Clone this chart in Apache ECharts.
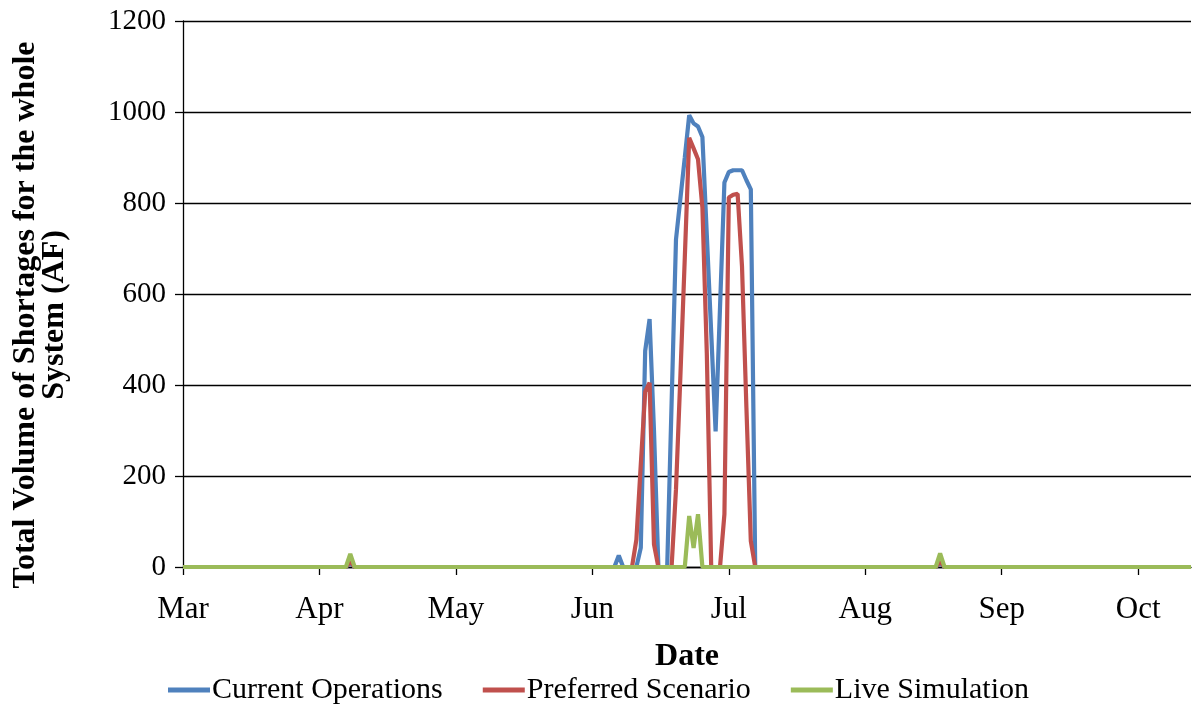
<!DOCTYPE html>
<html>
<head>
<meta charset="utf-8">
<script src="https://cdn.jsdelivr.net/npm/echarts@6/dist/echarts.min.js"></script>
<style>
  html, body { margin: 0; padding: 0; background: #fff; }
  #chart { width: 1193px; height: 710px; }
</style>
</head>
<body>
<div id="chart"></div>
<script>
// daily dates from 1 Mar, month tick labels every 31 days
const monthNames = ["Mar", "Apr", "May", "Jun", "Jul", "Aug", "Sep", "Oct"];
const monthDays = [31, 30, 31, 30, 31, 31, 30, 31];
const dayCount = 230;
const tickEvery = 31;

// non-zero stretches (everything else is 0)
const blueStart = 98;
const blueVals = [0, 25, 0, 0, 0, 0, 42, 475, 545, 300, 0, 0, 0, 360, 720, 810, 900, 993, 975, 968, 945, 730, 515, 298, 570, 845, 868, 872, 872, 872, 850, 830, 0];
const redStart = 101;
const redVals = [0, 0, 60, 225, 385, 405, 50, 0, 0, 0, 0, 171, 420, 680, 943, 920, 896, 790, 470, 0, 0, 0, 116, 812, 818, 820, 660, 350, 57, 0];
const greenStart = 114;
const greenVals = [0, 112, 42, 116, 0];

// two single-day spikes (Apr, Aug)
const spikeDays = [38, 172];
const blueSpikes = [10, 10];
const redSpikes = [12, 12];
const greenSpikes = [29, 30];

const dates = [];
for (let m = 0; m < monthDays.length; m++) {
  for (let d = 1; d <= monthDays[m]; d++) dates.push(monthNames[m] + " " + d);
}
dates.length = dayCount;

function buildSeries(start, vals, spikes) {
  const out = new Array(dayCount).fill(0);
  vals.forEach((v, i) => { out[start + i] = v; });
  spikeDays.forEach((d, i) => { out[d] = spikes[i]; });
  return out;
}

const blue = buildSeries(blueStart, blueVals, blueSpikes);
const red = buildSeries(redStart, redVals, redSpikes);
const green = buildSeries(greenStart, greenVals, greenSpikes);

const font = "'Liberation Serif', 'Times New Roman', serif";
const chart = echarts.init(document.getElementById("chart"));

const lineSeries = (name, color, data) => ({
  name: name,
  type: "line",
  data: data,
  symbol: "none",
  lineStyle: { color: color, width: 4.2 },
  itemStyle: { color: color },
});

chart.setOption({
  animation: false,
  textStyle: { fontFamily: font, color: "#000" },
  grid: { left: 183, right: 2, top: 21, bottom: 143, containLabel: false, outerBoundsMode: "none" },
  legend: {
    bottom: 0,
    left: 163,
    icon: "rect",
    itemWidth: 42,
    itemHeight: 5,
    itemGap: 40,
    textStyle: { fontFamily: font, fontSize: 30, color: "#000", padding: [0, 0, 0, -3] },
    data: ["Current Operations", "Preferred Scenario", "Live Simulation"],
  },
  xAxis: {
    type: "category",
    data: dates,
    boundaryGap: false,
    name: "Date",
    nameLocation: "middle",
    nameGap: 74,
    nameTextStyle: { fontFamily: font, fontSize: 32, fontWeight: "bold", color: "#000" },
    axisLine: { lineStyle: { color: "#000", width: 1.3 } },
    axisTick: { interval: tickEvery - 1, length: 8, lineStyle: { color: "#000", width: 1.3 } },
    axisLabel: {
      interval: tickEvery - 1,
      margin: 27,
      fontSize: 31,
      fontFamily: font,
      color: "#000",
      formatter: (v, idx) => monthNames[Math.round(idx / tickEvery)],
    },
    splitLine: { show: false },
  },
  yAxis: {
    type: "value",
    min: 0,
    max: 1200,
    interval: 200,
    name: "Total Volume of Shortages for the whole\nSystem (AF)",
    nameLocation: "middle",
    nameGap: 114,
    nameTextStyle: {
      fontFamily: font, fontSize: 32, fontWeight: "bold", color: "#000",
      lineHeight: 29, padding: [0, 42, 0, 0],
    },
    axisLine: { show: true, lineStyle: { color: "#000", width: 1.3 } },
    axisTick: { show: true, length: 8, lineStyle: { color: "#000", width: 1.3 } },
    axisLabel: { margin: 17, fontSize: 29, fontFamily: font, color: "#000", formatter: (v) => String(v) },
    splitLine: { lineStyle: { color: "#000", width: 1.3 } },
  },
  series: [
    lineSeries("Current Operations", "#4F81BD", blue),
    lineSeries("Preferred Scenario", "#C0504D", red),
    lineSeries("Live Simulation", "#9BBB59", green),
  ],
});
</script>
</body>
</html>
